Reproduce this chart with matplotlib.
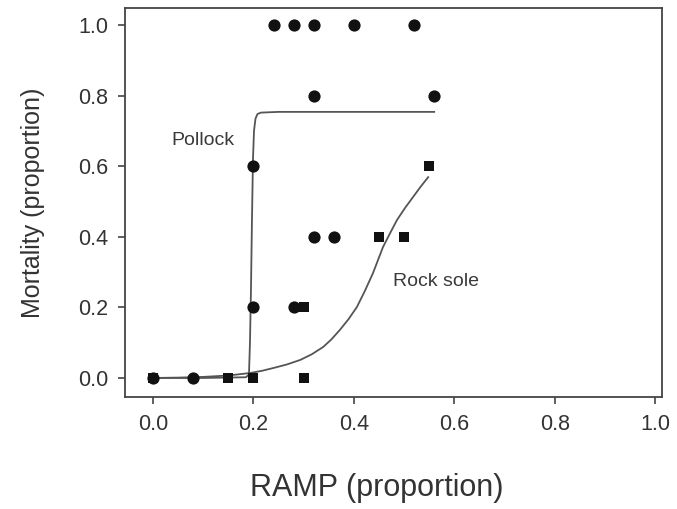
import matplotlib.pyplot as plt
import numpy as np

plt.rcParams['font.family'] = ['Liberation Sans', 'DejaVu Sans']

#--- Data ---#

# Pollock observations (circles)
pollock_x = [0.0, 0.08, 0.20, 0.20, 0.24, 0.28, 0.32, 0.40, 0.52, 0.32, 0.56, 0.32, 0.36, 0.28]
pollock_y = [0.0, 0.0, 0.2, 0.6, 1.0, 1.0, 1.0, 1.0, 1.0, 0.8, 0.8, 0.4, 0.4, 0.2]

# Rock sole observations (squares)
sole_x = [0.0, 0.15, 0.20, 0.30, 0.30, 0.45, 0.50, 0.55]
sole_y = [0.0, 0.0, 0.0, 0.0, 0.2, 0.4, 0.4, 0.6]

# Fitted curves
pollock_fit_x = [0.0, 0.10, 0.185, 0.191, 0.193, 0.195, 0.197, 0.199, 0.201, 0.204, 0.208, 0.215, 0.25, 0.56]
pollock_fit_y = [0.0, 0.0, 0.002, 0.01, 0.10, 0.25, 0.45, 0.62, 0.70, 0.735, 0.748, 0.752, 0.754, 0.754]

sole_fit_x = [0.0, 0.05, 0.10, 0.15, 0.193, 0.216, 0.239, 0.266, 0.293, 0.316, 0.339, 0.355,
              0.372, 0.389, 0.406, 0.422, 0.438, 0.448, 0.458, 0.472, 0.486, 0.502, 0.518, 0.533, 0.548]
sole_fit_y = [0.0, 0.001, 0.003, 0.007, 0.014, 0.020, 0.028, 0.038, 0.051, 0.067, 0.088, 0.109,
              0.136, 0.166, 0.201, 0.247, 0.297, 0.334, 0.371, 0.410, 0.448, 0.482, 0.513, 0.542, 0.569]

xticks = [0.0, 0.2, 0.4, 0.6, 0.8, 1.0]
yticks = [0.0, 0.2, 0.4, 0.6, 0.8, 1.0]

#--- Plot ---#

fig = plt.figure(figsize=(6.77, 5.09), dpi=100)
ax = fig.add_axes([0.1846, 0.220, 0.7934, 0.764])

linecol = '#555555'
ax.plot(pollock_fit_x, pollock_fit_y, color=linecol, lw=1.3, zorder=2)
ax.plot(sole_fit_x, sole_fit_y, color=linecol, lw=1.3, zorder=2)

ax.plot(sole_x, sole_y, 's', color='#111111', ms=7.2, mew=0, zorder=3)
ax.plot(pollock_x, pollock_y, 'o', color='#111111', ms=8.8, mew=0, zorder=4)

ax.text(0.10, 0.674, 'Pollock', fontsize=14, color='#3a3a3a', ha='center', va='center')
ax.text(0.564, 0.272, 'Rock sole', fontsize=14, color='#3a3a3a', ha='center', va='center')

ax.set_xlim(-0.056, 1.014)
ax.set_ylim(-0.054, 1.048)
ax.set_xticks(xticks)
ax.set_yticks(yticks)
ax.set_xticklabels(['{:.1f}'.format(t) for t in xticks])
ax.set_yticklabels(['{:.1f}'.format(t) for t in yticks])

ax.tick_params(direction='out', length=5, width=1.2, color='#444444',
               labelsize=15.5, labelcolor='#333333', pad=7)
for s in ax.spines.values():
    s.set_color('#444444')
    s.set_linewidth(1.3)

ax.set_xlabel('RAMP (proportion)', fontsize=22, color='#333333')
ax.xaxis.set_label_coords(0.469, -0.196)
ax.set_ylabel('Mortality (proportion)', fontsize=18, color='#333333', labelpad=24)

plt.savefig('out.png', dpi=100)
